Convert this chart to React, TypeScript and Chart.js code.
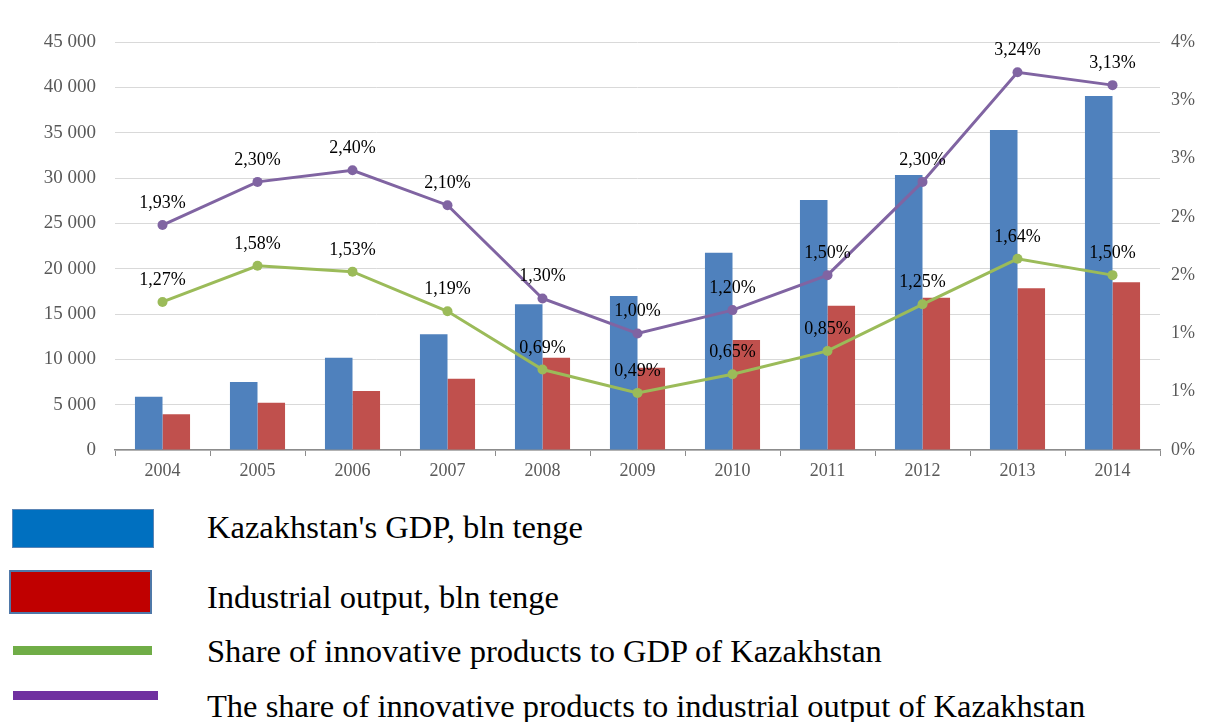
import React, { useEffect, useRef } from "react";
import { Chart, registerables } from "chart.js";

Chart.register(...registerables);

const years = ["2004", "2005", "2006", "2007", "2008", "2009", "2010", "2011", "2012", "2013", "2014"];
const gdp = [5870, 7500, 10180, 12760, 16070, 16990, 21760, 27575, 30330, 35300, 39050];
const industrial = [3940, 5220, 6510, 7870, 10180, 9080, 12130, 15920, 16800, 17830, 18500];
const shareGdp = [1.27, 1.58, 1.53, 1.19, 0.69, 0.49, 0.65, 0.85, 1.25, 1.64, 1.5];
const shareIndustrial = [1.93, 2.3, 2.4, 2.1, 1.3, 1.0, 1.2, 1.5, 2.3, 3.24, 3.13];

const legendItems = [
  "Kazakhstan's GDP, bln tenge",
  "Industrial output, bln tenge",
  "Share of innovative products to GDP of Kazakhstan",
  "The share of innovative products to industrial output of Kazakhstan",
];

const SERIF = '"Liberation Serif", "Times New Roman", serif';

const fmtPct = (v: number) => v.toFixed(2).replace(".", ",") + "%";

const pointLabels = {
  id: "pointLabels",
  afterDatasetsDraw(chart: any) {
    const ctx = chart.ctx;
    chart.data.datasets.forEach((ds: any, i: number) => {
      if (ds.type !== "line") return;
      const meta = chart.getDatasetMeta(i);
      meta.data.forEach((pt: any, j: number) => {
        ctx.save();
        ctx.font = `18px ${SERIF}`;
        ctx.fillStyle = "#000";
        ctx.textAlign = "center";
        ctx.textBaseline = "alphabetic";
        ctx.fillText(fmtPct(ds.data[j]), pt.x, pt.y - 17);
        ctx.restore();
      });
    });
  },
};

export default function App() {
  const ref = useRef<HTMLCanvasElement | null>(null);

  useEffect(() => {
    document.body.style.margin = "0";
    const chart = new Chart(ref.current as HTMLCanvasElement, {
      type: "bar",
      data: {
        labels: years,
        datasets: [
          {
            type: "line",
            label: legendItems[3],
            data: shareIndustrial,
            yAxisID: "y1",
            borderColor: "#8064A2",
            backgroundColor: "#8064A2",
            borderWidth: 3,
            pointRadius: 5,
            pointBorderWidth: 0,
            tension: 0,
            order: 0,
          },
          {
            type: "line",
            label: legendItems[2],
            data: shareGdp,
            yAxisID: "y1",
            borderColor: "#9BBB59",
            backgroundColor: "#9BBB59",
            borderWidth: 3,
            pointRadius: 5,
            pointBorderWidth: 0,
            tension: 0,
            order: 0,
          },
          {
            type: "bar",
            label: legendItems[0],
            data: gdp,
            yAxisID: "y",
            backgroundColor: "#4F81BD",
            barPercentage: 1,
            categoryPercentage: 0.58,
            order: 1,
          },
          {
            type: "bar",
            label: legendItems[1],
            data: industrial,
            yAxisID: "y",
            backgroundColor: "#C0504D",
            barPercentage: 1,
            categoryPercentage: 0.58,
            order: 1,
          },
        ],
      } as any,
      options: {
        responsive: false,
        animation: false,
        devicePixelRatio: 1,
        layout: { padding: { top: 42, left: 0, right: 0, bottom: 0 } },
        plugins: {
          legend: { display: false },
          tooltip: { enabled: false },
        },
        scales: {
          x: {
            grid: {
              display: true,
              drawOnChartArea: false,
              drawTicks: true,
              tickLength: 6,
              color: "#8c8c8c",
              offset: true,
            },
            border: { display: true, color: "#8c8c8c", width: 1.5 },
            ticks: {
              color: "#595959",
              font: { family: SERIF, size: 18 },
              padding: 4,
              maxRotation: 0,
            },
            afterFit: (s: any) => {
              s.height = 40;
            },
          },
          y: {
            position: "left",
            min: 0,
            max: 45000,
            grid: { color: "#d9d9d9", drawTicks: false, lineWidth: 1 },
            border: { display: false },
            ticks: {
              stepSize: 5000,
              color: "#595959",
              font: { family: SERIF, size: 19 },
              padding: 19,
              callback: (v: any) => String(v).replace(/\B(?=(\d{3})+(?!\d))/g, " "),
            },
            afterFit: (s: any) => {
              s.width = 115;
            },
          },
          y1: {
            position: "right",
            min: 0,
            max: 3.5,
            grid: { drawOnChartArea: false, drawTicks: false },
            border: { display: false },
            ticks: {
              stepSize: 0.5,
              color: "#595959",
              font: { family: SERIF, size: 18 },
              padding: 11,
              callback: (v: any) => Math.round(Number(v)) + "%",
            },
            afterFit: (s: any) => {
              s.width = 48;
            },
          },
        },
      } as any,
      plugins: [pointLabels],
    });
    return () => chart.destroy();
  }, []);

  const textStyle = (baseline: number): React.CSSProperties => ({
    position: "absolute",
    left: 207,
    top: baseline - 27,
    fontFamily: SERIF,
    fontSize: 32.5,
    lineHeight: "32px",
    color: "#000",
    whiteSpace: "nowrap",
  });

  return (
    <div style={{ position: "fixed", left: 0, top: 0, width: 1208, height: 722, background: "#fff", overflow: "hidden" }}>
      <canvas ref={ref} width={1208} height={490} style={{ position: "absolute", left: 0, top: 0, width: 1208, height: 490 }} />
      <div style={{ position: "absolute", left: 12, top: 509, width: 142, height: 39, boxSizing: "border-box", background: "#0070C0", border: "1.5px solid #5B85B5" }} />
      <div style={{ position: "absolute", left: 9, top: 570, width: 143, height: 44, boxSizing: "border-box", background: "#C00000", border: "2px solid #4F78A8" }} />
      <div style={{ position: "absolute", left: 13, top: 646, width: 139, height: 9, background: "#70AD47" }} />
      <div style={{ position: "absolute", left: 13, top: 691, width: 145, height: 9, background: "#7030A0" }} />
      <div style={textStyle(538)}>{legendItems[0]}</div>
      <div style={textStyle(608)}>{legendItems[1]}</div>
      <div style={textStyle(662)}>{legendItems[2]}</div>
      <div style={textStyle(717)}>{legendItems[3]}</div>
    </div>
  );
}
